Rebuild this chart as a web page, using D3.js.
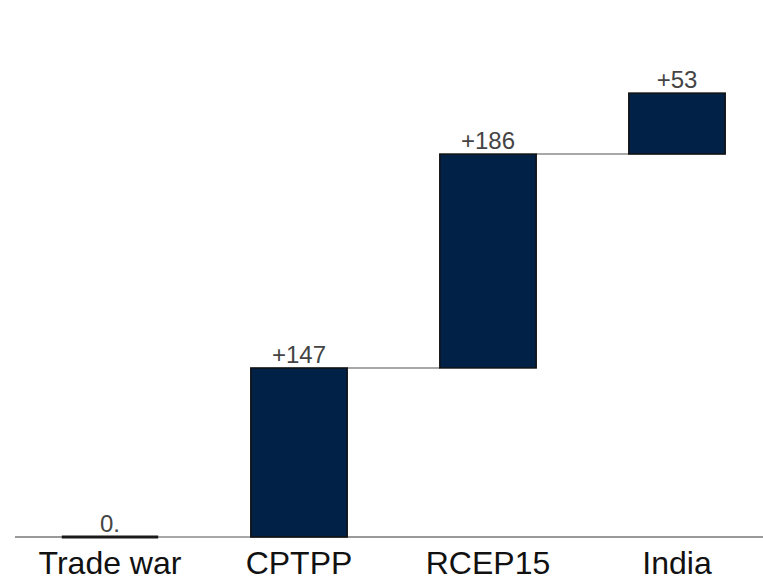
<!DOCTYPE html>
<html>
<head>
<meta charset="utf-8">
<script src="https://cdn.jsdelivr.net/npm/d3@7"></script>
<style>
  html, body { margin: 0; padding: 0; background: #fff; }
  svg { display: block; }
</style>
</head>
<body>
<svg id="chart" width="763" height="581"></svg>
<script>
// Waterfall of incremental gains by scenario
const categories = ["Trade war", "CPTPP", "RCEP15", "India"];
const increments = [0, 147, 186, 53];
const valueLabels = ["0.", "+147", "+186", "+53"];

const W = 763, H = 581;
const svg = d3.select("#chart");

// cumulative start/end for each step
let run = 0;
const steps = categories.map((c, i) => {
  const start = run;
  run += increments[i];
  return { cat: c, start, end: run, label: valueLabels[i], value: increments[i] };
});

const x = d3.scaleBand()
  .domain(categories)
  .range([15.5, 771.5])
  .paddingInner(0.49)
  .paddingOuter(0.245);

const y = d3.scaleLinear()
  .domain([0, 440])
  .range([537, 31]);

// baseline
svg.append("line")
  .attr("x1", 15).attr("x2", W)
  .attr("y1", y(0)).attr("y2", y(0))
  .attr("stroke", "#9a9a9a")
  .attr("stroke-width", 2);

// connectors between consecutive bars
svg.append("g").selectAll("line")
  .data(steps.slice(0, -1))
  .join("line")
  .attr("x1", (d) => x(d.cat) + x.bandwidth())
  .attr("x2", (d, i) => x(steps[i + 1].cat))
  .attr("y1", (d) => y(d.end))
  .attr("y2", (d) => y(d.end))
  .attr("stroke", "#a8a8a8")
  .attr("stroke-width", 2);

// bars
const bars = svg.append("g");
steps.forEach((d) => {
  if (d.value === 0) {
    bars.append("line")
      .attr("x1", x(d.cat)).attr("x2", x(d.cat) + x.bandwidth())
      .attr("y1", y(d.end)).attr("y2", y(d.end))
      .attr("stroke", "#1a1a1a")
      .attr("stroke-width", 3);
  } else {
    bars.append("rect")
      .attr("x", x(d.cat))
      .attr("width", x.bandwidth())
      .attr("y", y(Math.max(d.start, d.end)))
      .attr("height", Math.abs(y(d.start) - y(d.end)))
      .attr("fill", "#022147")
      .attr("stroke", "#111")
      .attr("stroke-width", 1.5);
  }
});

// value labels
svg.append("g").selectAll("text")
  .data(steps)
  .join("text")
  .attr("x", (d) => x(d.cat) + x.bandwidth() / 2)
  .attr("y", (d) => y(Math.max(d.start, d.end)) - 5)
  .attr("text-anchor", "middle")
  .attr("font-family", "Liberation Sans, Arial, sans-serif")
  .attr("font-size", 24)
  .attr("fill", "#444")
  .text((d) => d.label);

// category labels
svg.append("g").selectAll("text")
  .data(categories)
  .join("text")
  .attr("x", (d) => x(d) + x.bandwidth() / 2)
  .attr("y", 574)
  .attr("text-anchor", "middle")
  .attr("font-family", "Liberation Sans, Arial, sans-serif")
  .attr("font-size", 32)
  .attr("fill", "#111")
  .text((d) => d);
</script>
</body>
</html>
